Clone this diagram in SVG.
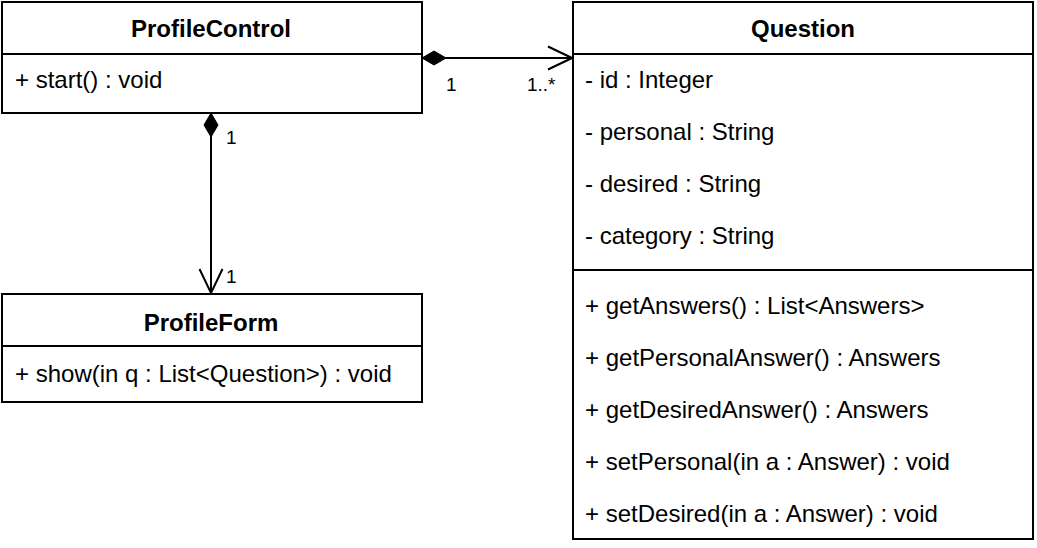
<svg xmlns="http://www.w3.org/2000/svg" width="1037" height="548" viewBox="0 0 1037 548">
<style>
.box{fill:#fff;stroke:#000;stroke-width:2}
.div{stroke:#000;stroke-width:2}
.t{font-family:"Liberation Sans",Arial,sans-serif;font-size:24px;fill:#000}
.b{font-weight:bold;text-anchor:middle}
.lbl{font-family:"Liberation Sans",Arial,sans-serif;font-size:19px;fill:#000}
.edge{stroke:#000;stroke-width:2;fill:none}
</style>
<defs>
<marker id="diamond" markerWidth="26" markerHeight="16" refX="1" refY="8" orient="auto" markerUnits="userSpaceOnUse">
<path d="M1,8 L13,1 L25,8 L13,15 Z" fill="#000" stroke="#000" stroke-width="1"/>
</marker>
<marker id="open" markerWidth="26" markerHeight="26" refX="25" refY="13" orient="auto" markerUnits="userSpaceOnUse">
<path d="M1,1.5 L25,13 L1,24.5" fill="none" stroke="#000" stroke-width="2"/>
</marker>
</defs>
<rect width="1037" height="548" fill="#fff"/>
<g id="connectors">
<path class="edge" d="M422,58 L572,58" marker-start="url(#diamond)" marker-end="url(#open)"/>
<path class="edge" d="M211,113 L211,293" marker-start="url(#diamond)" marker-end="url(#open)"/>
<text class="lbl" x="446" y="91">1</text>
<text class="lbl" x="527" y="91">1..*</text>
<text class="lbl" x="226" y="144">1</text>
<text class="lbl" x="226" y="283">1</text>
</g>
<g id="ProfileControl">
<rect class="box" x="2" y="2" width="420" height="111"/>
<line class="div" x1="2" y1="54" x2="422" y2="54"/>
<text class="t b" x="211" y="37">ProfileControl</text>
<text class="t" x="15" y="88">+ start() : void</text>
</g>
<g id="ProfileForm">
<rect class="box" x="2" y="294" width="420" height="108"/>
<line class="div" x1="2" y1="346" x2="422" y2="346"/>
<text class="t b" x="211" y="331">ProfileForm</text>
<text class="t" x="15" y="382">+ show(in q : List&lt;Question&gt;) : void</text>
</g>
<g id="Question">
<rect class="box" x="573" y="2" width="460" height="537"/>
<line class="div" x1="573" y1="54" x2="1033" y2="54"/>
<line class="div" x1="573" y1="270" x2="1033" y2="270"/>
<text class="t b" x="803" y="37">Question</text>
<text class="t" x="585" y="88">- id : Integer</text>
<text class="t" x="585" y="140">- personal : String</text>
<text class="t" x="585" y="192">- desired : String</text>
<text class="t" x="585" y="244">- category : String</text>
<text class="t" x="585" y="314">+ getAnswers() : List&lt;Answers&gt;</text>
<text class="t" x="585" y="366">+ getPersonalAnswer() : Answers</text>
<text class="t" x="585" y="418">+ getDesiredAnswer() : Answers</text>
<text class="t" x="585" y="470">+ setPersonal(in a : Answer) : void</text>
<text class="t" x="585" y="522">+ setDesired(in a : Answer) : void</text>
</g>
</svg>
